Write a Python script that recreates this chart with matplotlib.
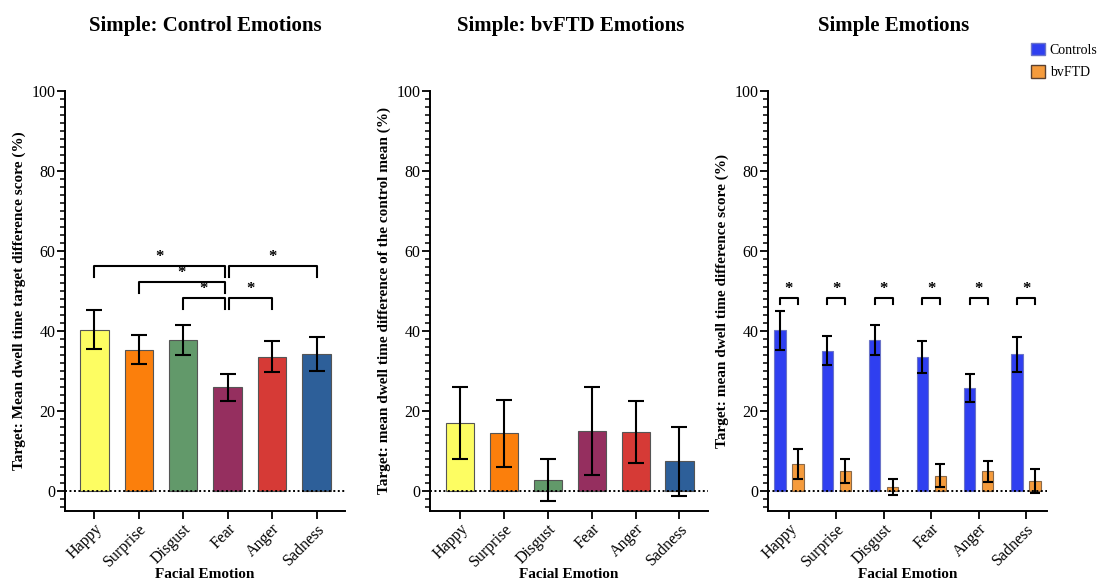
import matplotlib
matplotlib.use("Agg")
import matplotlib.pyplot as plt
import numpy as np
from matplotlib.ticker import MultipleLocator
from matplotlib.patches import Patch

plt.rcParams['font.family'] = ['Liberation Serif', 'DejaVu Serif']

emotions = ['Happy', 'Surprise', 'Disgust', 'Fear', 'Anger', 'Sadness']
emotion_colors = ['#fdfd62', '#fb7f0c', '#62996a', '#952f5f', '#d63a36', '#2d5f99']

# Panel 1: control emotions
control_means = [40.3, 35.3, 37.8, 25.9, 33.6, 34.3]
control_err = [4.9, 3.6, 3.7, 3.4, 3.9, 4.3]
# significance brackets (i, j, level)
sig_pairs = [(0, 3, 56.3), (1, 3, 52.3), (2, 3, 48.2), (3, 4, 48.2), (3, 5, 56.3)]

# Panel 2: bvFTD emotions (% of control mean)
bvftd_pct_means = [17.0, 14.4, 2.8, 15.0, 14.8, 7.4]
bvftd_pct_err = [9.1, 8.4, 5.2, 10.9, 7.8, 8.7]

# Panel 3: grouped
grp_controls = [40.2, 35.1, 37.7, 33.4, 25.8, 34.2]
grp_controls_err = [4.9, 3.6, 3.8, 4.0, 3.5, 4.4]
grp_bvftd = [6.8, 5.1, 1.0, 3.8, 4.9, 2.4]
grp_bvftd_err = [3.7, 3.0, 2.1, 2.9, 2.7, 3.0]
grp_sig_level = 48.3

fig = plt.figure(figsize=(11, 5.81), dpi=100)
H = 581.0
W = 1100.0
bottom = 1 - 511 / H
height = (511 - 91) / H
ax1 = fig.add_axes([65 / W, bottom, 280 / W, height])
ax2 = fig.add_axes([430 / W, bottom, 278 / W, height])
ax3 = fig.add_axes([768 / W, bottom, 279 / W, height])

tick_fs = 11.5
lab_fs = 11


def style(ax, xlim, ylabel):
    ax.set_ylim(-5, 100)
    ax.set_xlim(*xlim)
    ax.spines['top'].set_visible(False)
    ax.spines['right'].set_visible(False)
    ax.spines['left'].set_linewidth(1.4)
    ax.spines['bottom'].set_linewidth(1.4)
    ax.yaxis.set_major_locator(MultipleLocator(20))
    ax.yaxis.set_minor_locator(MultipleLocator(2))
    ax.tick_params(axis='y', which='major', length=6, width=1.3, labelsize=tick_fs, pad=1)
    ax.tick_params(axis='y', which='minor', length=3.5, width=1.1)
    ax.tick_params(axis='x', which='major', length=6, width=1.3, labelsize=tick_fs, pad=1)
    ax.set_xticks(range(len(emotions)))
    ax.set_xticklabels(emotions, rotation=45, ha='right', rotation_mode='anchor')
    ax.axhline(0, color='black', ls=(0, (1, 1.3)), lw=1.4, zorder=4)
    ax.set_ylabel(ylabel, fontsize=lab_fs, fontweight='bold', labelpad=4)
    ax.set_xlabel('Facial Emotion', fontsize=lab_fs, fontweight='bold')
    ax.xaxis.set_label_coords(0.5, (511 - 574) / 420.0)
    ax.xaxis.label.set_va('center')


x = np.arange(len(emotions))

# Panel 1
ax1.bar(x, control_means, width=0.64, color=emotion_colors, edgecolor='#555555', linewidth=0.8, zorder=2)
ax1.errorbar(x, control_means, yerr=control_err, fmt='none', ecolor='black', elinewidth=1.5,
             capsize=6, capthick=1.5, zorder=3)
leg = 2.7
for i, j, lvl in sig_pairs:
    xi = 3.03 if i == 3 else i
    xj = 2.93 if j == 3 else j
    ax1.plot([xi, xi, xj, xj], [lvl - leg, lvl, lvl, lvl - leg], color='black', lw=1.5, zorder=3)
    ax1.text((xi + xj) / 2, lvl + 0.3, '*', ha='center', va='bottom', fontsize=12, fontweight='bold')
style(ax1, (-0.66, 5.64), 'Target: Mean dwell time target difference score (%)')

# Panel 2
ax2.bar(x, bvftd_pct_means, width=0.64, color=emotion_colors, edgecolor='#555555', linewidth=0.8, zorder=2)
ax2.errorbar(x, bvftd_pct_means, yerr=bvftd_pct_err, fmt='none', ecolor='black', elinewidth=1.5,
             capsize=5.5, capthick=1.5, zorder=3)
style(ax2, (-0.69, 5.65), 'Target: mean dwell time difference of the control mean (%)')

# Panel 3
off = 0.19
bw = 0.24
ax3.bar(x - off, grp_controls, width=bw, color='#2f3ff0', edgecolor='#6b74c8', linewidth=0.8, zorder=2,
        label='Controls')
ax3.bar(x + off, grp_bvftd, width=bw, color='#f59b3c', edgecolor='#8a6a4a', linewidth=0.8, zorder=2,
        label='bvFTD')
ax3.errorbar(x - off, grp_controls, yerr=grp_controls_err, fmt='none', ecolor='black', elinewidth=1.5,
             capsize=3.3, capthick=1.5, zorder=3)
ax3.errorbar(x + off, grp_bvftd, yerr=grp_bvftd_err, fmt='none', ecolor='black', elinewidth=1.5,
             capsize=3.3, capthick=1.5, zorder=3)
for k in x:
    a, b = k - off, k + off
    ax3.plot([a, a, b, b], [grp_sig_level - 1.6, grp_sig_level, grp_sig_level, grp_sig_level - 1.6],
             color='black', lw=1.5, zorder=3)
    ax3.text(k, grp_sig_level + 0.3, '*', ha='center', va='bottom', fontsize=12, fontweight='bold')
style(ax3, (-0.44, 5.44), 'Target: mean dwell time difference score (%)')

# Titles
fig.text(205 / W, 1 - 26 / H, 'Simple: Control Emotions', ha='center', va='center', fontsize=15, fontweight='bold')
fig.text(571 / W, 1 - 26 / H, 'Simple: bvFTD Emotions', ha='center', va='center', fontsize=15, fontweight='bold')
fig.text(894 / W, 1 - 26 / H, 'Simple Emotions', ha='center', va='center', fontsize=15, fontweight='bold')

handles = [Patch(facecolor='#2f3ff0', edgecolor='#6b74c8'), Patch(facecolor='#f59b3c', edgecolor='#5a4030')]
fig.legend(handles, ['Controls', 'bvFTD'], loc='upper left', bbox_to_anchor=(1031 / W, 1 - 43 / H),
           frameon=False, fontsize=10, handlelength=1.0, handleheight=1.0, handletextpad=0.35,
           labelspacing=0.6, borderaxespad=0, borderpad=0)

fig.savefig('out.png', dpi=100)
